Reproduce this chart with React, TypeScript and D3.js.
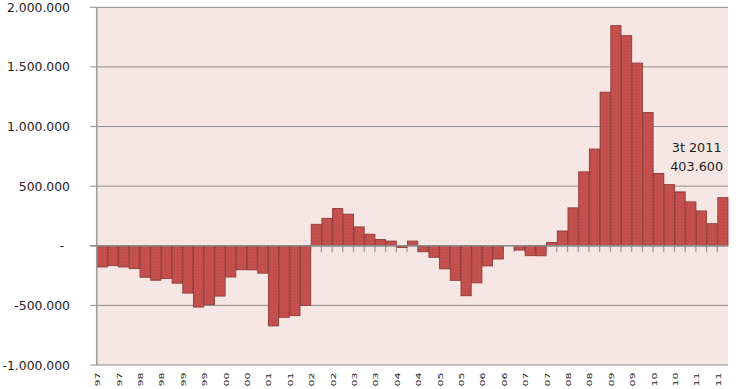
import React from "react";
import * as d3 from "d3";

const startYear = 1997;
const values: number[] = [
  -178000, -167000, -178000, -192000,
  -264000, -289000, -275000, -314000,
  -397000, -514000, -494000, -422000,
  -262000, -201000, -202000, -230000,
  -672000, -600000, -586000, -500000,
  180000, 230000, 312000, 265000,
  158000, 97000, 52000, 39000,
  -14000, 39000, -50000, -97000,
  -194000, -290000, -419000, -311000,
  -169000, -111000, 0, -36000,
  -83000, -84000, 27000, 124000,
  318000, 620000, 811000, 1288000,
  1846000, 1762000, 1532000, 1117000,
  606000, 513000, 452000, 368000,
  292000, 185000, 403600,
];
const categories: string[] = values.map((_, i) => {
  const y = startYear + Math.floor(i / 4);
  const q = (i % 4) + 1;
  return `${q}t ${y}`;
});
// visible part of the category labels (every second quarter)
const xTickLabels: string[] = categories.map((c) => c.slice(-2));
const yTicks: number[] = [-1000000, -500000, 0, 500000, 1000000, 1500000, 2000000];
const yTickLabels: string[] = ["-1.000.000", "-500.000", "-", "500.000", "1.000.000", "1.500.000", "2.000.000"];
const annotationLines: string[] = ["3t 2011", "403.600"];

const W = 740;
const H = 389;
const left = 96.7;
const right = 728;
const top = 7.3;
const bottom = 365;

export default function App() {
  const x = d3.scaleBand<string>().domain(categories).range([left, right]).padding(0);
  const y = d3.scaleLinear().domain([-1000000, 2000000]).range([bottom, top]);
  const y0 = y(0);
  const bw = x.bandwidth();
  const last = categories.length - 1;
  const lastX = (x(categories[last]) as number) + bw / 2;
  const font = "'DejaVu Sans', Verdana, sans-serif";

  return (
    <svg
      width={W}
      height={H}
      style={{ position: "absolute", left: 0, top: 0, overflow: "hidden", background: "#fff" }}
    >
      <defs>
        <pattern id="dots" width="4" height="4" patternUnits="userSpaceOnUse">
          <rect width="4" height="4" fill="#f5e8e9" />
          <rect x="0" y="0" width="1" height="1" fill="#f6d9c8" />
          <rect x="2" y="2" width="1" height="1" fill="#f3dcd6" />
        </pattern>
        <pattern id="bardots" width="3" height="3" patternUnits="userSpaceOnUse">
          <rect width="3" height="3" fill="#c5514e" />
          <rect x="0" y="0" width="1" height="1" fill="#b94745" />
        </pattern>
      </defs>
      <rect x={left} y={top} width={right - left} height={bottom - top} fill="url(#dots)" />
      {/* gridlines */}
      {yTicks.map((t) => (
        <line key={t} x1={left - 6.5} x2={right} y1={y(t)} y2={y(t)} stroke="#8c8c8c" strokeWidth={1} />
      ))}
      {/* category ticks at zero */}
      {categories.map((c, i) => {
        const xx = (x(c) as number) + bw;
        return i < last ? (
          <line key={"t" + c} x1={xx} x2={xx} y1={y0} y2={y0 + 6.5} stroke="#999" strokeWidth={1.2} />
        ) : null;
      })}
      {/* bars */}
      {values.map((v, i) => {
        const bx = x(categories[i]) as number;
        const y1 = Math.min(y(v), y0);
        const h = Math.abs(y(v) - y0);
        if (h < 0.3) return null;
        return (
          <rect
            key={"b" + i}
            x={bx + 0.5}
            y={y1}
            width={bw - 0.5}
            height={h}
            fill="url(#bardots)"
            stroke="#8e3a38"
            strokeWidth={0.9}
          />
        );
      })}
      {/* zero axis line */}
      <line x1={left - 6.5} x2={right} y1={y0} y2={y0} stroke="#8c8c8c" strokeWidth={1.3} />
      {/* y axis */}
      <line x1={left} x2={left} y1={top} y2={bottom} stroke="#9a9a9a" strokeWidth={1.5} />
      {/* y labels */}
      {yTicks.map((t, i) => (
        <text
          key={"yl" + t}
          x={t === 0 ? 64 : 70}
          y={y(t)}
          textAnchor="end"
          dominantBaseline="central"
          fontFamily={font}
          fontSize={12.4}
          fill="#1e1e1e"
        >
          {yTickLabels[i]}
        </text>
      ))}
      {/* x labels */}
      {categories.map((c, i) =>
        i % 2 === 0 ? (
          <text
            key={"xl" + c}
            transform={`translate(${(x(c) as number) + bw / 2 - 4},372.5) rotate(-90) scale(1,0.62)`}
            textAnchor="end"
            dominantBaseline="central"
            fontFamily={font}
            fontSize={11}
            fill="#1e1e1e"
          >
            {xTickLabels[i]}
          </text>
        ) : null
      )}
      {/* annotation */}
      {annotationLines.map((s, i) => (
        <text
          key={"an" + i}
          x={lastX - 26}
          y={152 + i * 19}
          textAnchor="middle"
          fontFamily={font}
          fontSize={12.8}
          fill="#1e1e1e"
        >
          {s}
        </text>
      ))}
    </svg>
  );
}
